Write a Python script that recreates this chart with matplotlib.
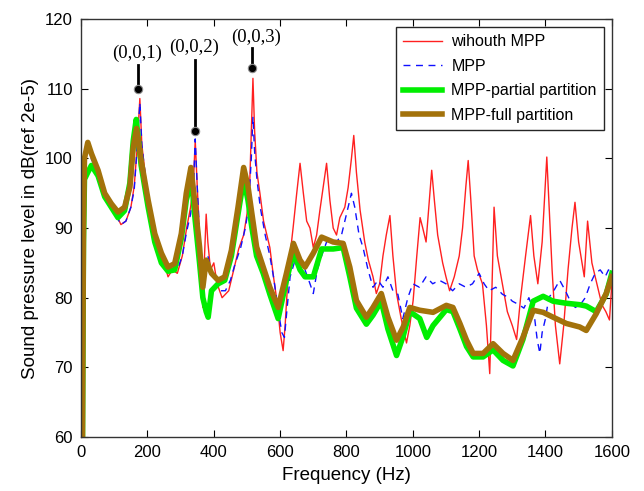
import matplotlib

matplotlib.use("Agg")

import matplotlib.pyplot as plt

# (frequency in Hz, SPL in dB)
FREQ_RED = [4, 8, 14, 20, 30, 45, 60, 75, 90, 105, 120, 135, 150, 160, 168, 177, 183, 190, 200, 215,
            230, 245, 262, 275, 290, 305, 318, 330, 338, 344, 350, 356, 362, 367, 372, 377, 382, 390,
            400, 410, 425, 435, 445, 460, 475, 490, 500, 508, 513, 518, 523, 530, 539, 550, 560, 569,
            580, 592, 600, 609, 615, 625, 639, 650, 660, 670, 680, 690, 700, 710, 720, 730, 740, 750,
            760, 770, 780, 795, 805, 815, 822, 830, 841, 855, 866, 880, 890, 900, 910, 920, 931, 940,
            951, 965, 981, 991, 1001, 1012, 1022, 1030, 1040, 1050, 1057, 1065, 1075, 1090, 1100,
            1111, 1125, 1140, 1150, 1160, 1167, 1175, 1185, 1195, 1210, 1222, 1232, 1238, 1245, 1255,
            1270, 1285, 1300, 1313, 1325, 1340, 1355, 1365, 1377, 1390, 1398, 1404, 1412, 1420, 1430,
            1443, 1455, 1468, 1480, 1489, 1500, 1517, 1527, 1540, 1555, 1570, 1582, 1593, 1600]
SPL_RED = [60, 96, 100, 102, 100.5, 98.5, 97, 95, 93, 92, 90.5, 91, 93, 96, 101, 108.6, 102, 99, 95, 91,
           88, 86, 83, 84, 83.5, 86, 90, 93, 96, 102.6, 96, 90, 84, 78.6, 86, 92, 88, 84,
           85, 82, 80, 80.5, 81, 84, 87, 89, 92, 96, 104, 111.5, 104, 98, 95, 91, 89, 87.2,
           83, 79, 75, 72.4, 76, 84, 90, 95, 99.3, 95, 91, 90, 87.2, 89, 92.6, 96, 99.3, 94,
           90, 89, 91.5, 93, 95.8, 100, 103.3, 98, 92.6, 88, 85.4, 83, 80.6, 82, 86, 89, 91.8, 86,
           80.6, 77, 73.5, 76, 79.6, 86, 91.5, 90, 88, 94, 98.3, 94, 89, 85, 83,
           81, 83, 86, 90, 96, 99.7, 94, 86, 84, 82, 76, 69.1, 80, 93, 86,
           82, 78, 76, 74, 80, 86, 91.8, 86, 82, 88, 95, 100.2, 92, 84, 76,
           70.5, 76, 84, 90, 93.7, 88, 83, 91, 85, 82, 79, 78, 76.8, 82]

FREQ_BLUE = [4, 8, 14, 20, 30, 45, 60, 75, 90, 105, 120, 135, 150, 160, 168, 177, 183, 190, 200, 215,
             230, 245, 262, 275, 290, 305, 318, 330, 338, 344, 350, 356, 362, 368, 375, 382, 392, 405,
             420, 435, 450, 465, 480, 495, 505, 513, 518, 523, 530, 540, 555, 569, 580, 595, 605, 613,
             620, 630, 645, 660, 675, 690, 700, 712, 725, 740, 755, 770, 785, 800, 815, 825, 838, 850,
             865, 880, 895, 910, 925, 940, 955, 970, 985, 1000, 1020, 1040, 1060, 1080, 1100, 1120,
             1140, 1160, 1180, 1200, 1215, 1230, 1250, 1270, 1290, 1300, 1320, 1335, 1350, 1365,
             1375, 1383, 1390, 1400, 1410, 1425, 1443, 1460, 1475, 1490, 1505, 1520, 1535, 1550,
             1565, 1580, 1590, 1600]
SPL_BLUE = [60, 96, 100, 101.5, 100, 98.5, 97, 95, 93, 91.8, 90.5, 91, 93, 95.5, 101, 108, 102, 99, 95, 91,
            88, 86, 83.5, 84, 84, 86, 89.5, 92, 95, 102.8, 96, 90, 84, 80.5, 86, 86, 84, 83,
            81, 81, 82.5, 85, 87, 90, 93, 100, 106, 101, 97, 93, 89, 86, 83, 78, 75, 74.3,
            78, 83, 85.4, 85.5, 84, 82, 80.6, 84, 86, 88, 88.4, 88, 89, 92, 95, 93, 89, 87.2,
            84, 81.5, 82.5, 81.5, 83, 81, 80.5, 77, 80, 82, 81.5, 83, 82, 82.5, 82, 81,
            82, 81.5, 82, 83.5, 82, 81, 81.5, 80.5, 80, 79.5, 79, 78.5, 80, 78,
            74, 72, 75, 77, 80, 81, 82.5, 81, 79.5, 78.6, 79, 80, 82, 83.5,
            84, 83, 84, 83.5]

FREQ_GREEN = [4, 7, 10, 20, 31, 51, 71, 91, 111, 131, 147, 157, 166, 181, 202, 222, 242, 262, 282, 302,
              317, 333, 342, 357, 367, 377, 383, 393, 413, 433, 453, 473, 490, 503, 515, 529, 549, 569,
              594, 619, 640, 660, 675, 700, 725, 760, 790, 810, 830, 860, 880, 905, 925, 951, 971, 991,
              1021, 1042, 1061, 1101, 1121, 1142, 1162, 1182, 1212, 1242, 1272, 1302, 1332, 1363,
              1393, 1423, 1463, 1503, 1523, 1553, 1583, 1600]
SPL_GREEN = [60, 88, 97, 98, 99, 97.5, 94.5, 93, 91.5, 92.5, 96.5, 102.5, 105.6, 99, 93, 88, 85, 83.8, 84, 88.5,
             94, 97, 92, 85, 80, 78, 77.2, 81, 82, 82.5, 86, 92, 97, 94, 90, 86, 83.5, 80.5,
             77, 82.5, 86.5, 84, 83, 83, 87, 87, 87.2, 83, 78.5, 76.2, 77.5, 79.5, 75.5, 71.7, 74.5, 78,
             77, 74.3, 76, 78.3, 78, 75.5, 73, 71.5, 71.5, 72.5, 71, 70.2, 74, 79.5,
             80.2, 79.5, 79.2, 79, 78.8, 78, 80.5, 83.5]

FREQ_BROWN = [4, 7, 10, 20, 31, 51, 71, 91, 111, 131, 147, 157, 167, 181, 202, 222, 242, 262, 282, 302,
              317, 331, 342, 357, 367, 377, 393, 413, 433, 453, 473, 490, 503, 515, 529, 549, 569, 594,
              619, 640, 660, 675, 700, 725, 760, 790, 810, 830, 860, 880, 905, 925, 951, 971, 991,
              1021, 1061, 1101, 1121, 1142, 1162, 1182, 1212, 1242, 1272, 1302, 1332, 1363, 1393,
              1423, 1463, 1503, 1523, 1553, 1583, 1600]
SPL_BROWN = [60, 90, 100, 102.3, 100.7, 98.3, 95, 93.5, 92.3, 93, 95.9, 101.6, 104.3, 99.7, 94, 89.2, 86.4, 84.4, 84.9, 89.2,
             95, 98.7, 94, 87.3, 81.5, 85.4, 83.5, 82.5, 83, 86.8, 93, 98.7, 96, 92, 87.3, 84.4, 81.5, 78.6,
             83.5, 87.8, 85.4, 84.4, 86.4, 88.7, 88, 87.8, 84.4, 79.6, 77.2, 78.6, 80.6, 77.2, 73.9, 75.8, 78.6,
             78.2, 77.9, 78.9, 78.6, 76.3, 73.9, 72, 72, 73.4, 72, 71, 74.3, 78.2, 77.9,
             77.2, 76.3, 75.8, 75.3, 77.7, 80.6, 83]

MODE_LABELS = ["(0,0,1)", "(0,0,2)", "(0,0,3)"]
MODE_FREQ = [171, 343, 514]
MODE_DOT = [110, 104, 113]
MODE_LINE_TOP = [113.4, 114.2, 115.8]
MODE_TEXT_FREQ = [169, 339, 527]
MODE_TEXT_Y = [115.1, 116.0, 117.4]

SANS = ["Liberation Sans", "DejaVu Sans"]
SERIF = ["Liberation Serif", "DejaVu Serif"]

plt.rcParams["font.family"] = SANS

fig = plt.figure(figsize=(6.44, 4.91), dpi=100)
ax = fig.add_axes([0.126, 0.110, 0.824, 0.851])

ax.plot(FREQ_RED, SPL_RED, color="#ff2020", lw=1.0, label="wihouth MPP")
ax.plot(FREQ_BLUE, SPL_BLUE, color="#1010ff", lw=1.0, ls=(0, (5, 4)), label="MPP")
ax.plot(FREQ_GREEN, SPL_GREEN, color="#00ee00", lw=4.0, label="MPP-partial partition")
ax.plot(FREQ_BROWN, SPL_BROWN, color="#a3720b", lw=4.0, label="MPP-full partition")

for label, f, dot, top, tf, ty in zip(MODE_LABELS, MODE_FREQ, MODE_DOT, MODE_LINE_TOP,
                                      MODE_TEXT_FREQ, MODE_TEXT_Y):
    ax.plot([f, f], [dot, top], color="black", lw=2.0, zorder=5)
    ax.plot([f], [dot], "o", color="black", ms=6, mec="0.55", mew=0.8, zorder=6)
    ax.text(tf, ty, label, ha="center", va="center", fontsize=13.5, family=SERIF)

ax.set_xlim(0, 1600)
ax.set_ylim(60, 120)
ax.set_xticks(range(0, 1601, 200))
ax.set_yticks(range(60, 121, 10))
ax.tick_params(direction="in", top=True, right=True, length=5, labelsize=12, pad=6)
for spine in ax.spines.values():
    spine.set_color("0.2")
    spine.set_linewidth(1.0)

ax.set_xlabel("Frequency (Hz)", fontsize=13.5, labelpad=5)
ax.set_ylabel("Sound pressure level in dB(ref 2e-5)", fontsize=13.5, labelpad=4)

leg = ax.legend(loc="upper right", fontsize=11.5, handlelength=2.4, handletextpad=0.6,
                fancybox=False, framealpha=1, edgecolor="0.15", borderpad=0.45,
                labelspacing=0.6, borderaxespad=0.5)
leg.get_frame().set_linewidth(1.0)

fig.savefig("out.png", dpi=100)
